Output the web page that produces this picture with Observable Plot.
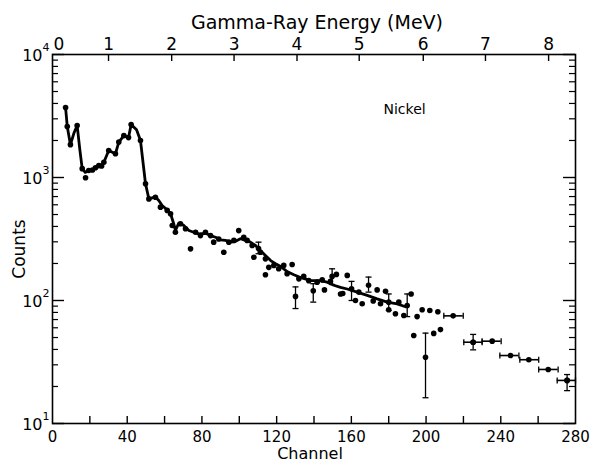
<!DOCTYPE html>
<html><head><meta charset="utf-8">
<script src="https://cdn.jsdelivr.net/npm/d3@7"></script>
<script src="https://cdn.jsdelivr.net/npm/@observablehq/plot@0.6"></script>
<style>body{margin:0;background:#fff}</style>
</head><body><div id="chart"></div>
<script>
const titleText = "Gamma-Ray Energy (MeV)";
const xLabel = "Channel";
const yLabel = "Counts";
const sampleLabel = "Nickel";

const channelTicks = [20,40,60,80,100,120,140,160,180,200,220,240,260];
const channelLabels = [0,40,80,120,160,200,240,280];
const energyTickChannels = [30,63.8,97.2,130.9,164.2,198.5,231.8,265.6];
const energyTickLabels = ["1","2","3","4","5","6","7","8"];
const energyZeroLabel = ["0"];
const decades = [10,100,1000,10000];
const decadeExps = ["1","2","3","4"];
const minorTicks = [20,30,40,50,60,70,80,90,200,300,400,500,600,700,800,900,2000,3000,4000,5000,6000,7000,8000,9000];

// smooth spectrum line
const fitChannel = [7.0,7.9,9.6,11.5,13.2,14.6,15.9,17.5,19.4,21.4,23.0,24.8,26.3,27.5,30.1,33.7,35.5,38.2,40.7,42.1,45.0,47.1,49.8,51.6,55.1,56.9,58.7,61.4,63.2,64.9,65.8,67.6,70.3,73.0,75.6,78.3,81.9,84.6,87.3,89.9,92.6,95.3,98.0,100.6,103.3,106.0,108.7,111.3,114.0,116.8,119.4,122.0,125.6,129.2,132.8,138.1,143.5,147.0,150.6,154.2,157.8,163.1,168.5,173.8,179.2,184.5,189.0];
const fitCounts = [3700,2600,1850,2300,2650,1700,1180,1100,1140,1150,1200,1250,1240,1330,1660,1560,1940,2190,2110,2700,2440,2000,890,670,695,650,592,546,507,421,371,426,408,371,359,348,352,337,327,311,308,298,303,318,308,298,280,255,232,211,199,190,172,162,154,145,145,141,133,128,124,117,110,103,97,94,89];

// measured points
const ptChannel = [7.0,7.9,9.6,13.2,15.9,17.7,19.4,21.4,23.0,24.8,26.3,27.5,30.1,33.7,35.5,38.2,40.7,42.1,47.1,49.8,51.6,55.1,57.8,61.4,63.2,64.1,65.8,68.5,71.2,73.9,76.6,79.2,81.9,84.6,86.3,89.0,91.7,94.4,97.1,99.7,102.4,104.2,106.9,107.8,111.3,114.0,114.0,115.8,118.5,121.1,123.8,125.6,128.3,131.9,134.5,137.2,141.7,144.4,145.6,148.8,152.0,154.2,155.4,157.8,162.2,164.0,165.8,171.7,173.8,175.6,178.3,180.0,183.6,185.4,188.1,192.0,193.4,195.2,197.9,202.0,204.1,206.3,207.7];
const ptCounts = [3700,2600,1850,2650,1180,995,1140,1150,1200,1250,1240,1330,1660,1560,1940,2190,2110,2700,2000,890,670,690,574,540,507,407,359,421,383,263,359,337,359,337,298,316,247,298,308,370,327,308,280,225,247,218,162,186,193,181,193,165,196,150,157,145,141,147,122,143,163,113,114,160,100,117,94,99,122,94,119,84,78,97,75.5,113,52,74,84,83,54,81,58];

// vertical error bars
const errChannel = [110.3,130.1,139.6,149.7,160.1,169.2,180.0,189.9,199.7,225.2,275.5];
const errValue   = [265,108,120,157,124.5,133,97,91,34.6,45.8,22.4];
const errLow     = [240,86,97,135,100,117,83,74,16.2,39.7,18.5];
const errHigh    = [298,129,137,181,143,155,113,113,54.3,53,25];

// horizontal (channel-width) bars
const hbarChannel = [214.5,225.2,235.4,245.2,255,265.4,275.5];
const hbarValue   = [75,45.8,46.7,35.7,33,27.5,22.4];
const hbarLeft    = [209.5,220.2,230,239.5,250.2,260.3,270.2];
const hbarRight   = [219.9,230,240.2,249.7,260.3,270.7,280];

const W = 590, H = 463;
const mL = 52, mR = 15, mT = 54, mB = 40;
const innerW = W - mL - mR, innerH = H - mT - mB;
const font = "DejaVu Sans, sans-serif";

const hCap = {draw(ctx, size){ const w = Math.sqrt(size/Math.PI); ctx.moveTo(-w,0); ctx.lineTo(w,0);} };
const vCap = {draw(ctx, size){ const w = Math.sqrt(size/Math.PI); ctx.moveTo(0,-w); ctx.lineTo(0,w);} };

const idx = a => a.map((_, i) => i);

const chart = Plot.plot({
  width: W, height: H,
  marginLeft: mL, marginRight: mR, marginTop: mT, marginBottom: mB,
  style: {fontFamily: font, background: "#fff", color: "#000"},
  x: {domain: [0, 280], axis: null},
  y: {type: "log", domain: [10, 10000], axis: null},
  marks: [
    Plot.frame({stroke: "#000", strokeWidth: 1.6}),
    // bottom ticks (inward)
    Plot.tickX(channelTicks, {x: d => d, insetTop: innerH - 7, strokeWidth: 1.4}),
    // top energy ticks (inward)
    Plot.tickX(energyTickChannels, {x: d => d, insetBottom: innerH - 7, strokeWidth: 1.4}),
    // left ticks
    Plot.tickY(decades, {y: d => d, insetRight: innerW - 12, strokeWidth: 1.4}),
    Plot.tickY(minorTicks, {y: d => d, insetRight: innerW - 6, strokeWidth: 1.2}),
    // right ticks
    Plot.tickY(decades, {y: d => d, insetLeft: innerW - 12, strokeWidth: 1.4}),
    Plot.tickY(minorTicks, {y: d => d, insetLeft: innerW - 6, strokeWidth: 1.2}),
    // bottom labels
    Plot.text(channelLabels, {x: d => d, frameAnchor: "bottom", dy: 8, lineAnchor: "top", fontSize: 15, text: d => String(d)}),
    Plot.text([xLabel], {frameAnchor: "bottom", textAnchor: "middle", dx: -4, dy: 24, lineAnchor: "top", fontSize: 16, text: d => d}),
    // top labels
    Plot.text(energyTickChannels, {x: d => d, frameAnchor: "top", dy: -5, lineAnchor: "bottom", fontSize: 17, text: (d, i) => energyTickLabels[i]}),
    Plot.text(energyZeroLabel, {frameAnchor: "top-left", textAnchor: "start", dx: 1, dy: -5, lineAnchor: "bottom", fontSize: 17, text: d => d}),
    Plot.text([titleText], {frameAnchor: "top", textAnchor: "middle", dx: 3, dy: -26, lineAnchor: "bottom", fontSize: 19, text: d => d}),
    // left labels 10^n
    Plot.text(decades, {y: d => d, frameAnchor: "left", textAnchor: "end", dx: -10, dy: 1, fontSize: 16, text: () => "10"}),
    Plot.text(decades, {y: d => d, frameAnchor: "left", textAnchor: "start", dx: -10, dy: -7, fontSize: 11, text: (d, i) => decadeExps[i]}),
    Plot.text([yLabel], {frameAnchor: "left", textAnchor: "middle", dx: -33, dy: 10, rotate: -90, fontSize: 17, text: d => d}),
    Plot.text([sampleLabel], {frameAnchor: "top-left", textAnchor: "start", dx: 331, dy: 50, fontSize: 14, text: d => d}),
    // error bars
    Plot.ruleX(idx(errChannel), {x: i => errChannel[i], y1: i => errLow[i], y2: i => errHigh[i], strokeWidth: 1.3}),
    Plot.dot(idx(errChannel), {x: i => errChannel[i], y: i => errLow[i], symbol: hCap, r: 3, stroke: "#000", fill: "none", strokeWidth: 1.3}),
    Plot.dot(idx(errChannel), {x: i => errChannel[i], y: i => errHigh[i], symbol: hCap, r: 3, stroke: "#000", fill: "none", strokeWidth: 1.3}),
    Plot.ruleY(idx(hbarChannel), {y: i => hbarValue[i], x1: i => hbarLeft[i], x2: i => hbarRight[i], strokeWidth: 1.6}),
    Plot.dot(idx(hbarChannel), {x: i => hbarLeft[i], y: i => hbarValue[i], symbol: vCap, r: 3, stroke: "#000", fill: "none", strokeWidth: 1.3}),
    Plot.dot(idx(hbarChannel), {x: i => hbarRight[i], y: i => hbarValue[i], symbol: vCap, r: 3, stroke: "#000", fill: "none", strokeWidth: 1.3}),
    // spectrum line
    Plot.line(idx(fitChannel), {x: i => fitChannel[i], y: i => fitCounts[i], stroke: "#000", strokeWidth: 2.8, strokeLinejoin: "round"}),
    // points
    Plot.dot(idx(ptChannel), {x: i => ptChannel[i], y: i => ptCounts[i], r: 2.8, fill: "#000", stroke: "none"}),
    Plot.dot(idx(errChannel), {x: i => errChannel[i], y: i => errValue[i], r: 2.8, fill: "#000", stroke: "none"}),
    Plot.dot(idx(hbarChannel), {x: i => hbarChannel[i], y: i => hbarValue[i], r: 2.8, fill: "#000", stroke: "none"})
  ]
});
document.getElementById("chart").appendChild(chart);
</script>
</body></html>
